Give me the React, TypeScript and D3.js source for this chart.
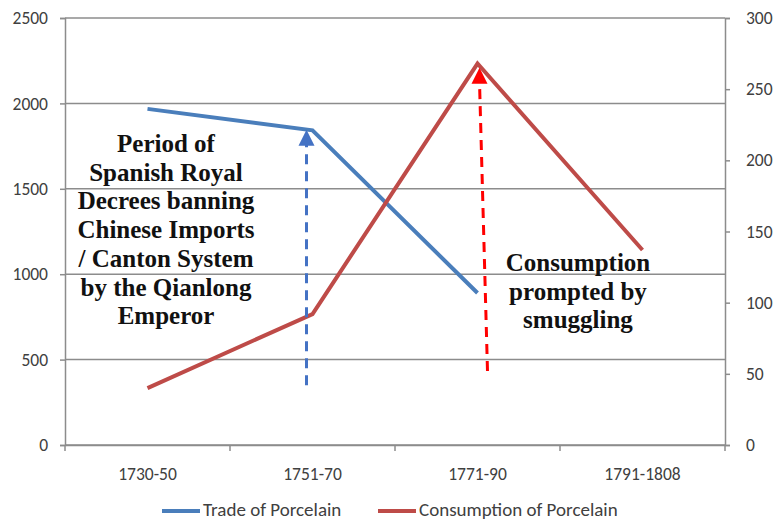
import React, { useEffect, useRef } from "react";
import * as d3 from "d3";

const periods = ["1730-50", "1751-70", "1771-90", "1791-1808"];
const tradeValues = [1968, 1842, 890]; // left axis, stops at 1771-90
const consumptionValues = [40, 92, 268, 137]; // right axis
const leftTicks = [0, 500, 1000, 1500, 2000, 2500];
const rightTicks = [0, 50, 100, 150, 200, 250, 300];
const leftNote = [
  "Period of",
  "Spanish Royal",
  "Decrees banning",
  "Chinese Imports",
  "/ Canton System",
  "by the Qianlong",
  "Emperor",
];
const rightNote = ["Consumption", "prompted by", "smuggling"];

const SANS = "Carlito, Lato, 'Open Sans', sans-serif";
const SERIF = "'Liberation Serif', 'DejaVu Serif', serif";

const App = () => {
  const ref = useRef<SVGSVGElement>(null);

  useEffect(() => {
    const width = 777;
    const height = 522;
    const margin = { top: 18, right: 52, bottom: 77, left: 65 };
    const blue = "#4a7ebb";
    const red = "#be4b48";
    const grid = "#8c8c8c";
    const labelColor = "#404040";

    const svg = d3.select(ref.current);
    svg.selectAll("*").remove();
    svg.attr("width", width).attr("height", height);

    svg.append("rect").attr("width", width).attr("height", height).attr("fill", "white");

    const x = d3
      .scaleBand()
      .domain(periods)
      .range([margin.left, width - margin.right]);
    const yL = d3
      .scaleLinear()
      .domain([0, 2500])
      .range([height - margin.bottom, margin.top]);
    const yR = d3
      .scaleLinear()
      .domain([0, 300])
      .range([height - margin.bottom, margin.top]);
    const cx = (d: string) => (x(d) as number) + x.bandwidth() / 2;

    // gridlines
    svg
      .append("g")
      .selectAll("line")
      .data(leftTicks)
      .enter()
      .append("line")
      .attr("x1", margin.left)
      .attr("x2", width - margin.right)
      .attr("y1", (d) => yL(d))
      .attr("y2", (d) => yL(d))
      .attr("stroke", grid)
      .attr("stroke-width", 1.5);

    const styleAxis = (g: any) => {
      g.attr("font-family", SANS).attr("font-size", 17.5);
      g.select(".domain").attr("stroke", grid).attr("stroke-width", 1.5);
      g.selectAll(".tick line").attr("stroke", grid).attr("stroke-width", 1.5);
      g.selectAll("text").attr("fill", labelColor);
    };

    // left axis
    const left = svg
      .append("g")
      .attr("transform", `translate(${margin.left},0)`)
      .call(
        d3.axisLeft(yL).tickValues(leftTicks).tickFormat(d3.format("d")).tickSize(5).tickPadding(12)
      );
    styleAxis(left);

    // right axis
    const right = svg
      .append("g")
      .attr("transform", `translate(${width - margin.right},0)`)
      .call(
        d3.axisRight(yR).tickValues(rightTicks).tickFormat(d3.format("d")).tickSize(5).tickPadding(16)
      );
    styleAxis(right);

    // bottom axis
    const bottom = svg
      .append("g")
      .attr("transform", `translate(0,${height - margin.bottom})`)
      .call(d3.axisBottom(x).tickSize(0).tickPadding(23));
    styleAxis(bottom);
    bottom
      .selectAll(".band-tick")
      .data(periods.concat(["end"]))
      .enter()
      .append("line")
      .attr("x1", (d, i) => margin.left + i * x.bandwidth())
      .attr("x2", (d, i) => margin.left + i * x.bandwidth())
      .attr("y1", 0)
      .attr("y2", 6)
      .attr("stroke", grid)
      .attr("stroke-width", 1.5);

    // series lines
    const lineL = d3
      .line<number>()
      .x((d, i) => cx(periods[i]))
      .y((d) => yL(d));
    const lineR = d3
      .line<number>()
      .x((d, i) => cx(periods[i]))
      .y((d) => yR(d));

    svg
      .append("path")
      .datum(tradeValues)
      .attr("d", lineL)
      .attr("fill", "none")
      .attr("stroke", blue)
      .attr("stroke-width", 4);
    svg
      .append("path")
      .datum(consumptionValues)
      .attr("d", lineR)
      .attr("fill", "none")
      .attr("stroke", red)
      .attr("stroke-width", 4);

    // dashed arrows
    const arrow = (xb: number, yb: number, xt: number, yt: number, color: string) => {
      const g = svg.append("g");
      g.append("line")
        .attr("x1", xb)
        .attr("y1", yb)
        .attr("x2", xt)
        .attr("y2", yt + 14)
        .attr("stroke", color)
        .attr("stroke-width", 3)
        .attr("stroke-dasharray", "10,7");
      g.append("path")
        .attr("d", `M${xt},${yt} L${xt - 8},${yt + 16} L${xt + 8},${yt + 16} Z`)
        .attr("fill", color);
    };
    arrow(cx(periods[1]) - 6, yL(350), cx(periods[1]) - 6, yL(1845), "#4472c4");
    arrow(cx(periods[2]) + 10, yR(52), cx(periods[2]) + 2, yR(265), "#ff0000");

    // annotations
    const note = (lines: string[], xc: number, y0: number) => {
      svg
        .append("text")
        .attr("text-anchor", "middle")
        .attr("font-family", SERIF)
        .attr("font-weight", "bold")
        .attr("font-size", 25)
        .attr("fill", "#111")
        .selectAll("tspan")
        .data(lines)
        .enter()
        .append("tspan")
        .attr("x", xc)
        .attr("y", (d, i) => y0 + i * 28.7)
        .text((d) => d);
    };
    note(leftNote, 166, 152);
    note(rightNote, 578, 271);

    // legend
    const legend = [
      { label: "Trade of Porcelain", color: blue, x: 162 },
      { label: "Consumption of Porcelain", color: red, x: 378 },
    ];
    const lg = svg.append("g").attr("font-family", SANS).attr("font-size", 19);
    legend.forEach((l) => {
      lg.append("line")
        .attr("x1", l.x)
        .attr("x2", l.x + 38)
        .attr("y1", 511)
        .attr("y2", 511)
        .attr("stroke", l.color)
        .attr("stroke-width", 4);
      lg.append("text")
        .attr("x", l.x + 41)
        .attr("y", 516)
        .attr("fill", labelColor)
        .text(l.label);
    });
  }, []);

  return (
    <svg
      ref={ref}
      style={{ position: "absolute", left: 0, top: 0, display: "block" }}
    />
  );
};

export default App;
